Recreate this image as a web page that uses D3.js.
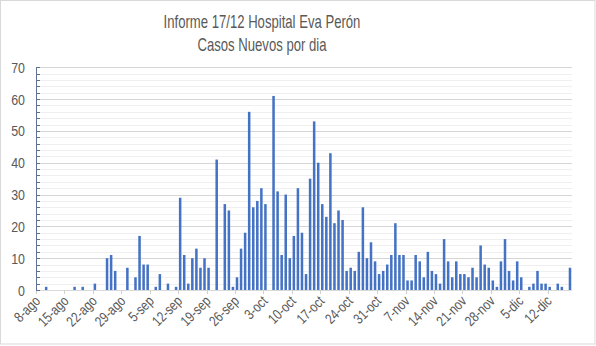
<!DOCTYPE html>
<html><head><meta charset="utf-8">
<script src="https://cdn.jsdelivr.net/npm/d3@7"></script>
<style>
body{margin:0;background:#fff;}
svg text{font-family:"Liberation Sans Narrow","Arial Narrow","Liberation Sans",Arial,sans-serif;fill:#595959;}
</style></head>
<body><svg id="c" width="596" height="346"></svg>
<script>
const titleLines = ["Informe 17/12 Hospital Eva Perón", "Casos Nuevos por dia"];
const startDate = new Date(2020, 7, 8);
const endDate = new Date(2020, 11, 18);
const monthNames = ["ene","feb","mar","abr","may","jun","jul","ago","sep","oct","nov","dic"];
const casos = [
  0,0,1,0,0,0,0,0,0,1, 0,1,0,0,2,0,0,10,11,6,
  0,0,7,0,4,17,8,8,0,1, 5,0,2,0,1,29,11,2,10,13,
  7,10,7,0,41,0,27,25,1,4, 13,18,56,26,28,32,27,0,61,31,
  11,30,10,17,32,18,5,35,53,40, 27,23,43,21,25,22,6,7,6,12,
  26,10,15,9,5,6,8,11,21,11, 11,3,3,11,9,4,12,6,5,2,
  16,9,4,9,5,5,4,7,4,14, 8,7,3,1,9,16,6,3,9,4,
  0,1,2,6,2,2,1,0,2,1, 0,7
];
const tickLabels = ["8-ago","15-ago","22-ago","29-ago","5-sep","12-sep","19-sep","26-sep","3-oct","10-oct","17-oct","24-oct","31-oct","7-nov","14-nov","21-nov","28-nov","5-dic","12-dic"];
const yTicks = [0,10,20,30,40,50,60,70];

const fmt = d => d.getDate() + "-" + monthNames[d.getMonth()];
const dias = d3.timeDay.range(startDate, endDate).map(fmt);
const data = dias.map((d, i) => ({dia: d, v: casos[i]}));

const svg = d3.select("#c");
const L = 36, R = 572, T = 67.3, B = 290;
const NARROW = 0.8;

svg.append("rect").attr("x",0.5).attr("y",0.5).attr("width",594.5).attr("height",343.5)
  .attr("fill","#fff").attr("stroke","#d9d9d9");

svg.append("text").attr("text-anchor","middle")
  .attr("transform","translate(262,28) scale(0.75,1)")
  .style("font-size","17.5px").text(titleLines[0]);
svg.append("text").attr("text-anchor","middle")
  .attr("transform","translate(262,51) scale(0.75,1)")
  .style("font-size","17.5px").text(titleLines[1]);

const x = d3.scaleBand().domain(dias).range([L, R]).padding(0);
const y = d3.scaleLinear().domain([0, 70]).range([B, T]);

// minor grid
svg.append("g").selectAll("line").data(d3.range(0, 71, 2).filter(v => v % 10 !== 0))
  .join("line").attr("x1",L).attr("x2",R).attr("y1",d=>Math.round(y(d))+0.5).attr("y2",d=>Math.round(y(d))+0.5)
  .attr("stroke","#efefef").attr("stroke-width",1);
// major grid
svg.append("g").selectAll("line").data(yTicks.filter(v => v > 0))
  .join("line").attr("x1",L).attr("x2",R).attr("y1",d=>Math.round(y(d))+0.5).attr("y2",d=>Math.round(y(d))+0.5)
  .attr("stroke","#d6d6d6").attr("stroke-width",1);

// bars
const bw = x.bandwidth() * 0.62;
svg.append("g").selectAll("rect").data(data.filter(d => d.v > 0)).join("rect")
  .attr("x", d => x(d.dia) + (x.bandwidth() - bw) / 2)
  .attr("y", d => y(d.v))
  .attr("width", bw)
  .attr("height", d => B - y(d.v))
  .attr("fill", "#4472c4");

// x axis
svg.append("line").attr("x1",L).attr("x2",R).attr("y1",B+0.5).attr("y2",B+0.5).attr("stroke","#d9d9d9");
svg.append("g").selectAll("line").data(tickLabels).join("line")
  .attr("x1", d => Math.round(x(d)) + 0.5).attr("x2", d => Math.round(x(d)) + 0.5)
  .attr("y1", B).attr("y2", B + 4).attr("stroke","#d0d0d0");
svg.append("g").selectAll("text").data(tickLabels).join("text")
  .attr("text-anchor","end")
  .attr("transform", d => `translate(${x(d) + x.bandwidth()/2 + 3},${B + 12}) rotate(-45) scale(${NARROW},1)`)
  .style("font-size","14.5px")
  .text(d => d);

// y axis
const yAxis = svg.append("g");
yAxis.append("line").attr("x1",L+0.5).attr("x2",L+0.5).attr("y1",T).attr("y2",B).attr("stroke","#5d7193");
yAxis.selectAll("line.mt").data(d3.range(0, 71, 2)).join("line").attr("class","mt")
  .attr("x1",L).attr("x2",L+4).attr("y1",d=>Math.round(y(d))+0.5).attr("y2",d=>Math.round(y(d))+0.5)
  .attr("stroke","#5d7193");
yAxis.selectAll("text").data(yTicks).join("text")
  .attr("text-anchor","end")
  .attr("transform", d => `translate(25,${y(d) + 5.5}) scale(${NARROW},1)`)
  .style("font-size","15.5px")
  .text(d => d);
</script></body></html>
